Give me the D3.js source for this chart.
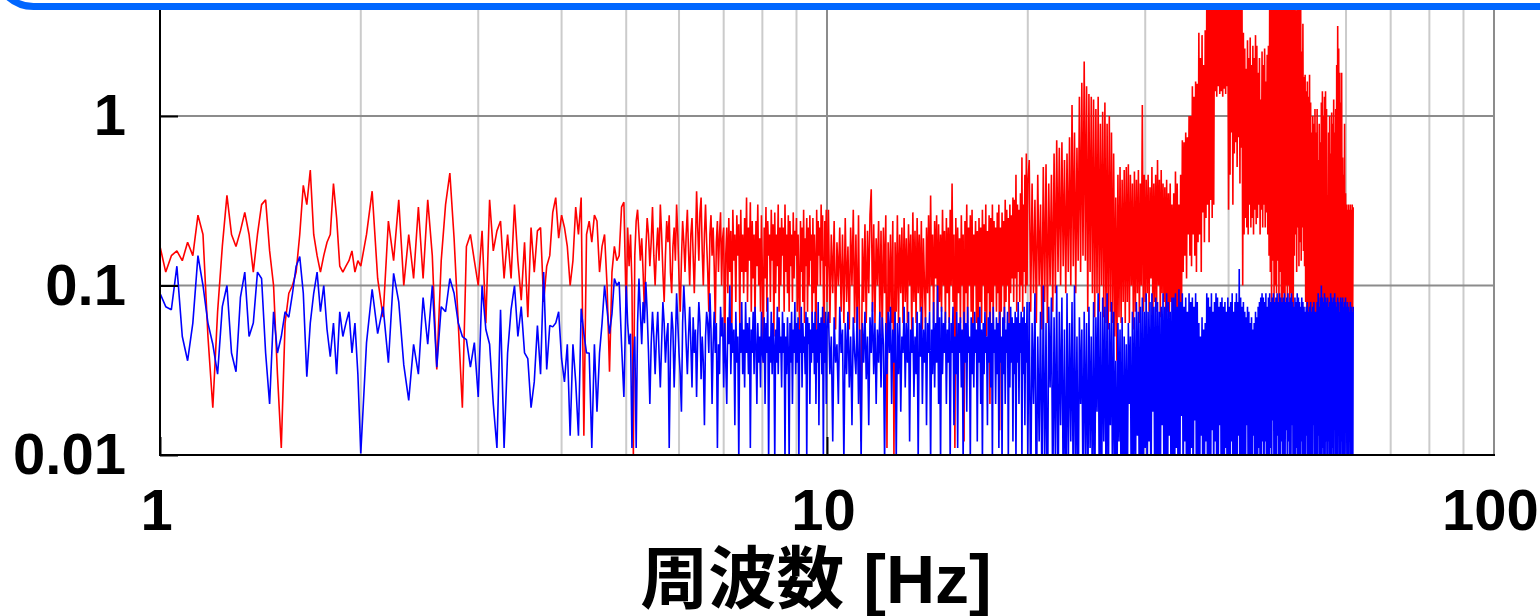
<!DOCTYPE html>
<html><head><meta charset="utf-8">
<script src="https://cdn.jsdelivr.net/npm/d3@7"></script>
<style>html,body{margin:0;padding:0;background:#fff;overflow:hidden}</style>
</head><body><svg id="c" width="1540" height="616"></svg>
<script>
// Frequency bands: start [Hz] and bin step [Hz] of each band of spectrum bins
const bandStart = [1.0, 2.04, 5.025, 10.05, 20.1];
const bandStep = [0.02, 0.04, 0.025, 0.05, 0.1];

// Red series (bands A..E)
const redA = [0.17,0.12,0.15,0.16,0.14,0.18,0.15,0.26,0.2,0.05,0.019,0.07,0.17,0.34,0.2,0.17,0.21,0.27,0.2,0.12,0.2,0.3,0.32,0.16,0.1,0.03,0.011,0.06,0.09,0.1,0.12,0.2,0.39,0.3,0.48,0.2,0.15,0.12,0.15,0.18,0.2,0.4,0.25,0.13,0.12,0.13,0.14,0.16,0.12,0.14,0.13];
const redB = [0.2,0.36,0.11,0.065,0.24,0.14,0.32,0.1,0.2,0.11,0.29,0.11,0.32,0.15,0.032,0.14,0.3,0.46,0.19,0.06,0.019,0.17,0.2,0.14,0.1,0.21,0.06,0.32,0.16,0.21,0.24,0.11,0.2,0.11,0.3,0.14,0.082,0.18,0.065,0.22,0.12,0.21,0.22,0.08,0.13,0.15,0.27,0.33,0.19,0.26,0.22,0.17,0.1,0.14,0.29,0.2,0.33,0.013,0.2,0.24,0.18,0.26,0.24,0.12,0.17,0.2,0.1,0.031,0.12,0.17,0.14,0.15,0.29,0.31,0.07];
const redC = [0.22,0.13,0.2,0.1,0.01,0.15,0.24,0.28,0.2,0.14,
0.19,0.12,0.07,0.16,0.25,0.2,0.13,0.18,0.29,0.15,
0.1,0.16,0.22,0.14,0.3,0.2,0.12,0.08,0.15,0.24,
0.18,0.26,0.12,0.09,0.17,0.22,0.14,0.3,0.2,0.11,
0.07,0.14,0.24,0.18,0.12,0.2,0.28,0.16,0.1,0.2,
0.25,0.15,0.09,0.17,0.36,0.22,0.14,0.27,0.33,0.16,
0.1,0.2,0.3,0.18,0.12,0.07,0.2,0.26,0.15,0.22,
0.13,0.06,0.18,0.24,0.12,0.2,0.27,0.1,0.19,0.22,
0.035,0.15,0.22,0.09,0.25,0.12,0.21,0.06,0.28,0.14,
0.2,0.08,0.26,0.15,0.23,0.06,0.28,0.12,0.2,0.09,
0.25,0.12,0.33,0.08,0.22,0.14,0.31,0.07,0.24,0.11,
0.2,0.06,0.24,0.13,0.3,0.1,0.19,0.07,0.26,0.12,
0.035,0.22,0.11,0.29,0.07,0.24,0.15,0.2,0.08,0.28,
0.14,0.23,0.05,0.27,0.09,0.2,0.13,0.3,0.07,0.22,
0.1,0.25,0.15,0.22,0.07,0.3,0.12,0.2,0.09,0.26,
0.07,0.24,0.13,0.2,0.08,0.27,0.11,0.21,0.15,0.25,
0.07,0.2,0.1,0.043,0.24,0.12,0.22,0.08,0.28,0.06,
0.19,0.13,0.25,0.07,0.22,0.1,0.26,0.14,0.2,0.06,
0.25,0.09,0.2,0.13,0.035,0.28,0.1,0.24,0.15,0.22,
0.1,0.3,0.14,0.26,0.09,0.035,0.24,0.13,0.28,0.08];
const redD = [0.28,0.06,0.2,0.09,0.24,0.055,0.18,0.1,0.22,0.07,
0.2,0.06,0.25,0.08,0.17,0.055,0.22,0.1,0.28,0.06,
0.2,0.05,0.26,0.036,0.012,0.19,0.08,0.23,0.06,0.21,
0.09,0.26,0.37,0.07,0.23,0.06,0.19,0.1,0.24,0.065,
0.21,0.05,0.22,0.09,0.26,0.011,0.18,0.07,0.2,0.06,
0.24,0.01,0.18,0.07,0.26,0.06,0.2,0.09,0.22,0.06,
0.25,0.08,0.19,0.06,0.23,0.1,0.2,0.05,0.27,0.08,
0.21,0.06,0.25,0.09,0.2,0.07,0.24,0.055,0.19,0.1,
0.06,0.22,0.09,0.26,0.07,0.34,0.1,0.2,0.06,0.24,
0.11,0.26,0.055,0.23,0.08,0.2,0.07,0.28,0.1,0.21,
0.06,0.25,0.09,0.22,0.06,0.28,0.1,0.4,0.08,0.2,
0.011,0.25,0.07,0.22,0.09,0.19,0.06,0.26,0.1,0.2,
0.012,0.24,0.09,0.3,0.06,0.22,0.1,0.26,0.07,0.28,
0.05,0.2,0.1,0.24,0.06,0.21,0.038,0.25,0.08,0.22,
0.06,0.28,0.1,0.23,0.07,0.3,0.05,0.21,0.09,0.26,
0.02,0.25,0.08,0.3,0.06,0.24,0.1,0.22,0.07,0.27,
0.09,0.3,0.014,0.22,0.07,0.27,0.1,0.24,0.06,0.32,
0.08,0.28,0.1,0.25,0.06,0.3,0.09,0.26,0.11,0.33,
0.08,0.32,0.11,0.45,0.07,0.3,0.12,0.28,0.08,0.35,
0.1,0.57,0.07,0.3,0.12,0.45,0.09,0.6,0.1,0.4];
const redE = [0.55,0.07,0.4,0.09,0.32,0.06,0.45,0.1,0.3,0.055,
0.5,0.08,0.52,0.06,0.4,0.1,0.45,0.07,0.6,0.09,
0.72,0.12,0.65,0.1,0.7,0.13,0.55,0.09,0.6,0.12,
0.75,0.1,1.16,0.13,0.8,0.09,0.65,0.14,1.3,0.12,
1.57,0.15,2.1,0.14,1.5,0.07,1.35,0.12,1.3,0.09,
1.25,0.065,1.1,0.09,1.3,0.07,0.9,0.1,1.06,0.065,
1.2,0.06,0.9,0.055,1.0,0.07,0.8,0.06,0.6,0.05,
0.33,0.036,0.45,0.065,0.5,0.06,0.42,0.08,0.48,0.06,
0.5,0.08,0.52,0.06,0.45,0.1,0.4,0.055,0.47,0.07,
0.42,0.09,0.48,0.06,0.4,0.1,1.16,0.07,0.45,0.08,
0.42,0.09,0.45,0.07,0.38,0.11,0.5,0.065,0.4,0.08,
0.45,0.07,0.55,0.1,0.42,0.065,0.48,0.09,0.4,0.08,
0.38,0.06,0.42,0.07,0.35,0.065,0.4,0.08,0.3,0.06,
0.35,0.07,0.47,0.048,0.4,0.06,0.3,0.07,0.45,0.06,
0.72,0.12,0.7,0.15,0.8,0.11,0.75,0.2,1.0,0.15,
1.0,0.13,1.5,0.2,1.3,0.15,1.6,0.12,1.55,0.18,
3.1,0.2,2.2,0.12,3.0,0.27,2.0,0.18,3.2,0.25,
5,0.3,6,0.18,5.5,0.32,6,0.25,7,0.3,
6,1.4,5,1.3,7,1.5,6,1.35,5,1.4,
6,1.3,7,1.45,5,1.35,6,1.5,5,0.28,
5,0.45,6,0.8,4.5,0.3,6,0.6,5,0.7,
6,0.5,5,0.75,6,0.4,5,0.65,4.5,0.1,
3.1,0.2,2.5,0.25,1.9,0.22,2.8,0.2,2.2,0.3,
2.9,0.22,2.0,0.25,2.6,0.2,2.2,0.28,3.0,0.23,
2.6,0.25,1.8,0.3,2.2,0.2,1.25,0.28,2.4,0.22,
2.0,0.3,2.5,0.22,1.6,0.27,2.3,0.2,2.6,0.15,
5,0.12,6,0.065,4.8,0.14,7,0.08,5,0.1,
6,0.09,5,0.14,6,0.07,5.5,0.12,6,0.08,
6,0.07,5,0.09,6,0.06,4.5,0.1,6,0.08,
5,0.1,6,0.07,5,0.09,6,0.08,5.5,0.07,
5,0.15,6,0.2,4.2,0.12,5,0.22,6,0.13,
4.5,0.18,6,0.14,2.4,0.22,3.5,0.16,1.7,0.13,
1.75,0.08,1.4,0.06,1.6,0.065,1.3,0.07,1.75,0.06,
1.2,0.065,0.8,0.06,1.0,0.07,0.9,0.06,1.1,0.065,
0.8,0.065,1.1,0.07,0.55,0.06,0.9,0.07,0.7,0.065,
1.2,0.07,1.4,0.065,1.0,0.07,1.3,0.06,1.4,0.065,
1.1,0.07,0.34,0.075,0.8,0.07,1.0,0.065,0.6,0.07,
1.05,0.07,0.9,0.065,1.25,0.07,0.8,0.06,1.1,0.07,
2.0,0.07,3.4,0.075,2.5,0.07,1.8,0.065,1.2,0.07,
1.8,0.075,0.57,0.07,0.45,0.065,0.9,0.07,0.35,0.07,
0.3,0.07,0.28,0.06,0.3,0.065,0.28,0.07,0.3,0.06,
0.28,0.065,0.3,0.07,0.29];

// Blue series (bands A..E)
const blueA = [0.09,0.075,0.072,0.13,0.05,0.036,0.06,0.15,0.1,0.06,0.045,0.03,0.075,0.1,0.04,0.031,0.085,0.12,0.05,0.06,0.12,0.11,0.04,0.02,0.07,0.04,0.05,0.07,0.065,0.09,0.13,0.148,0.09,0.029,0.06,0.09,0.12,0.07,0.1,0.055,0.038,0.06,0.03,0.07,0.05,0.06,0.07,0.04,0.06,0.03,0.0102];
const blueB = [0.046,0.095,0.052,0.075,0.035,0.118,0.08,0.034,0.021,0.045,0.03,0.085,0.045,0.1,0.033,0.075,0.07,0.11,0.09,0.06,0.05,0.048,0.033,0.046,0.022,0.1,0.055,0.045,0.02,0.011,0.072,0.011,0.04,0.072,0.1,0.05,0.075,0.04,0.037,0.019,0.027,0.058,0.03,0.12,0.032,0.058,0.057,0.06,0.07,0.037,0.027,0.045,0.013,0.045,0.027,0.013,0.073,0.052,0.04,0.04,0.011,0.045,0.018,0.04,0.06,0.1,0.072,0.052,0.068,0.11,0.1,0.105,0.045,0.022,0.1];
const blueC = [0.06,0.045,0.052,0.011,0.035,0.05,0.011,0.06,0.11,0.07,
0.045,0.08,0.06,0.105,0.07,0.04,0.02,0.045,0.07,0.05,
0.03,0.05,0.07,0.04,0.025,0.045,0.08,0.06,0.035,0.05,
0.06,0.011,0.04,0.07,0.055,0.025,0.045,0.09,0.06,0.04,
0.03,0.018,0.06,0.1,0.07,0.045,0.03,0.05,0.075,0.045,
0.025,0.065,0.04,0.055,0.022,0.05,0.08,0.06,0.028,0.05,
0.035,0.015,0.05,0.07,0.06,0.04,0.09,0.055,0.02,0.045,
0.07,0.04,0.06,0.011,0.045,0.03,0.075,0.05,0.065,0.025,
0.06,0.035,0.02,0.065,0.045,0.1,0.03,0.06,0.04,0.055,
0.015,0.07,0.035,0.05,0.009,0.06,0.04,0.08,0.03,0.055,
0.025,0.08,0.04,0.06,0.03,0.065,0.011,0.055,0.04,0.07,
0.03,0.075,0.045,0.02,0.06,0.035,0.05,0.025,0.07,0.04,
0.035,0.065,0.02,0.06,0.04,0.085,0.009,0.05,0.035,0.07,
0.03,0.06,0.045,0.009,0.055,0.035,0.075,0.03,0.065,0.04,
0.05,0.025,0.07,0.04,0.06,0.009,0.05,0.03,0.065,0.04,
0.009,0.06,0.035,0.07,0.02,0.055,0.04,0.08,0.03,0.06,
0.035,0.065,0.009,0.055,0.04,0.075,0.025,0.06,0.04,0.05,
0.03,0.07,0.009,0.065,0.045,0.06,0.02,0.055,0.035,0.07,
0.04,0.06,0.03,0.07,0.02,0.055,0.035,0.08,0.015,0.06,
0.04,0.065,0.03,0.075,0.009,0.06,0.035,0.07,0.02,0.055];
const blueD = [0.07,0.03,0.05,0.012,0.065,0.035,0.045,0.02,0.075,0.04,
0.055,0.009,0.06,0.03,0.07,0.025,0.05,0.015,0.065,0.04,
0.03,0.075,0.02,0.055,0.009,0.06,0.035,0.07,0.028,0.05,
0.015,0.065,0.04,0.08,0.03,0.06,0.02,0.055,0.035,0.07,
0.025,0.065,0.045,0.009,0.06,0.03,0.07,0.04,0.075,0.02,
0.055,0.035,0.07,0.009,0.06,0.03,0.065,0.018,0.05,0.04,
0.075,0.025,0.06,0.035,0.07,0.012,0.055,0.04,0.065,0.022,
0.05,0.03,0.07,0.009,0.06,0.038,0.075,0.02,0.055,0.035,
0.065,0.015,0.06,0.04,0.07,0.009,0.055,0.03,0.08,0.025,
0.06,0.035,0.1,0.02,0.065,0.009,0.075,0.03,0.06,0.04,
0.07,0.02,0.055,0.035,0.065,0.009,0.06,0.04,0.075,0.015,
0.05,0.03,0.07,0.011,0.06,0.04,0.065,0.025,0.055,0.009,
0.07,0.035,0.06,0.018,0.075,0.04,0.05,0.009,0.065,0.03,
0.06,0.025,0.07,0.04,0.055,0.012,0.065,0.035,0.075,0.02,
0.055,0.009,0.06,0.03,0.07,0.04,0.05,0.015,0.065,0.035,
0.07,0.025,0.06,0.009,0.075,0.04,0.055,0.02,0.065,0.03,
0.06,0.011,0.07,0.035,0.05,0.009,0.065,0.03,0.075,0.02,
0.055,0.04,0.07,0.009,0.06,0.025,0.075,0.035,0.065,0.012,
0.06,0.03,0.07,0.009,0.065,0.035,0.08,0.02,0.06,0.04,
0.07,0.009,0.065,0.03,0.075,0.015,0.06,0.035,0.08,0.01];
const blueE = [0.08,0.005,0.06,0.02,0.09,0.004,0.05,0.012,0.07,0.006,
0.1,0.008,0.06,0.003,0.075,0.025,0.085,0.005,0.065,0.009,
0.1,0.004,0.07,0.015,0.085,0.006,0.055,0.003,0.09,0.008,
0.06,0.012,0.08,0.005,0.1,0.007,0.05,0.004,0.065,0.02,
0.055,0.006,0.07,0.009,0.06,0.004,0.075,0.011,0.05,0.005,
0.08,0.005,0.065,0.018,0.09,0.006,0.07,0.004,0.085,0.012,
0.075,0.007,0.09,0.004,0.06,0.015,0.08,0.005,0.07,0.009,
0.036,0.004,0.06,0.012,0.055,0.006,0.065,0.003,0.05,0.008,
0.045,0.005,0.06,0.02,0.05,0.004,0.07,0.009,0.065,0.005,
0.08,0.013,0.07,0.004,0.075,0.007,0.085,0.005,0.07,0.011,
0.09,0.005,0.07,0.012,0.08,0.004,0.09,0.018,0.075,0.006,
0.085,0.005,0.08,0.009,0.07,0.004,0.075,0.015,0.09,0.006,
0.075,0.007,0.09,0.004,0.08,0.013,0.07,0.005,0.085,0.009,
0.085,0.004,0.09,0.011,0.075,0.006,0.095,0.005,0.08,0.017,
0.09,0.005,0.075,0.012,0.085,0.004,0.07,0.008,0.09,0.005,
0.08,0.011,0.085,0.004,0.075,0.016,0.09,0.005,0.08,0.009,
0.06,0.005,0.05,0.013,0.065,0.004,0.055,0.007,0.06,0.012,
0.09,0.004,0.085,0.009,0.075,0.005,0.09,0.014,0.07,0.006,
0.08,0.012,0.09,0.004,0.085,0.006,0.075,0.015,0.08,0.005,
0.085,0.009,0.075,0.004,0.08,0.011,0.07,0.005,0.085,0.008,
0.075,0.005,0.08,0.012,0.09,0.004,0.07,0.009,0.08,0.005,
0.09,0.006,0.08,0.013,0.125,0.004,0.085,0.008,0.075,0.005,
0.08,0.009,0.07,0.004,0.065,0.015,0.075,0.006,0.07,0.005,
0.06,0.007,0.065,0.004,0.055,0.013,0.06,0.005,0.07,0.009,
0.065,0.004,0.075,0.011,0.08,0.006,0.085,0.005,0.09,0.012,
0.085,0.005,0.08,0.012,0.09,0.004,0.075,0.008,0.085,0.005,
0.09,0.011,0.08,0.004,0.085,0.016,0.09,0.005,0.08,0.009,
0.085,0.005,0.09,0.013,0.08,0.004,0.09,0.007,0.085,0.012,
0.08,0.004,0.085,0.009,0.09,0.005,0.08,0.014,0.085,0.006,
0.09,0.012,0.08,0.004,0.085,0.006,0.09,0.015,0.08,0.005,
0.075,0.009,0.085,0.004,0.08,0.011,0.09,0.005,0.085,0.008,
0.08,0.005,0.075,0.012,0.085,0.004,0.08,0.009,0.075,0.005,
0.07,0.006,0.075,0.013,0.08,0.004,0.07,0.008,0.075,0.005,
0.08,0.009,0.07,0.004,0.075,0.015,0.08,0.006,0.07,0.005,
0.07,0.007,0.08,0.004,0.09,0.013,0.075,0.005,0.085,0.009,
0.1,0.004,0.085,0.011,0.08,0.006,0.09,0.005,0.085,0.012,
0.08,0.005,0.085,0.012,0.075,0.004,0.08,0.008,0.09,0.005,
0.085,0.011,0.08,0.004,0.085,0.016,0.09,0.005,0.08,0.009,
0.075,0.005,0.085,0.013,0.08,0.004,0.07,0.007,0.085,0.012,
0.08,0.004,0.085,0.009,0.075,0.005,0.08,0.014,0.085,0.006,
0.075,0.012,0.08,0.004,0.075,0.006,0.07,0.015,0.08,0.005,
0.075,0.009,0.07,0.004,0.075];

const xTicks = [1, 10, 100];
const xTickLabels = ["1", "10", "100"];
const yTicks = [0.01, 0.1, 1];
const yTickLabels = ["0.01", "0.1", "1"];
const xMinorGrid = [2,3,4,5,6,7,8,9,20,30,40,50,60,70,80,90];
const xTitle = "周波数 [Hz]";

function buildSeries(bands) {
  const out = [];
  bands.forEach((vals, b) => vals.forEach((v, i) => {
    out.push({f: +(bandStart[b] + i * bandStep[b]).toFixed(4), v});
  }));
  return out;
}
const redSeries = buildSeries([redA, redB, redC, redD, redE]);
const blueSeries = buildSeries([blueA, blueB, blueC, blueD, blueE]);

const svg = d3.select("#c");
const L = 160, R = 1494, B = 455, T = 10;
const x = d3.scaleLog().domain([1, 100]).range([L, R]);
const y = d3.scaleLog().domain([0.01, 10]).range([B, B - 3 * 169.5]);

svg.append("defs").append("clipPath").attr("id", "plotclip")
  .append("rect").attr("x", L).attr("y", T).attr("width", R - L).attr("height", B - T);

// grid
const grid = svg.append("g");
grid.selectAll("line.minor").data(xMinorGrid).join("line")
  .attr("x1", d => x(d)).attr("x2", d => x(d)).attr("y1", T).attr("y2", B)
  .attr("stroke", "#cbcbcb").attr("stroke-width", 2);
grid.selectAll("line.majx").data([10, 100]).join("line")
  .attr("x1", d => x(d)).attr("x2", d => x(d)).attr("y1", T).attr("y2", B)
  .attr("stroke", "#8c8c8c").attr("stroke-width", 2);
grid.selectAll("line.majy").data([0.1, 1]).join("line")
  .attr("x1", L).attr("x2", R).attr("y1", d => y(d)).attr("y2", d => y(d))
  .attr("stroke", "#8c8c8c").attr("stroke-width", 2);

// data
const line = d3.line().x(d => x(d.f)).y(d => y(d.v));
const plot = svg.append("g").attr("clip-path", "url(#plotclip)");
plot.append("path").datum(redSeries).attr("d", line)
  .attr("fill", "none").attr("stroke", "#ff0000").attr("stroke-width", 1.6).attr("stroke-linejoin", "bevel");
plot.append("path").datum(blueSeries).attr("d", line)
  .attr("fill", "none").attr("stroke", "#0000ff").attr("stroke-width", 1.6).attr("stroke-linejoin", "bevel");

// axes
const font = "'Liberation Sans', Arial, 'Noto Sans CJK JP', sans-serif";
const yAxis = d3.axisLeft(y).tickValues(yTicks).tickFormat((d, i) => yTickLabels[i])
  .tickSizeInner(-18).tickSizeOuter(0).tickPadding(34);
const gy = svg.append("g").attr("transform", `translate(${L},0)`).call(yAxis);
const xAxis = d3.axisBottom(x).tickValues(xTicks).tickFormat((d, i) => xTickLabels[i])
  .tickSizeInner(-18).tickSizeOuter(0).tickPadding(34);
const gx = svg.append("g").attr("transform", `translate(0,${B})`).call(xAxis);
[gx, gy].forEach(g => {
  g.select(".domain").remove();
  g.selectAll(".tick line").attr("stroke", "#000").attr("stroke-width", 2);
  g.selectAll(".tick text").attr("fill", "#000").style("font-family", font)
    .style("font-size", "58px").style("font-weight", "bold");
});
gx.selectAll(".tick text").attr("dx", -4);
gx.selectAll(".tick line").filter(d => d === 100).remove();

// frame
svg.append("line").attr("x1", L).attr("x2", L).attr("y1", 0).attr("y2", B + 1)
  .attr("stroke", "#000").attr("stroke-width", 2);
svg.append("line").attr("x1", L - 1).attr("x2", R + 1).attr("y1", B).attr("y2", B)
  .attr("stroke", "#000").attr("stroke-width", 2);

// title
svg.append("text").attr("x", 816).attr("y", 603).attr("text-anchor", "middle")
  .style("font-family", font).style("font-size", "68px").style("font-weight", "bold")
  .attr("fill", "#000").text(xTitle);

// blue rounded frame edge at top
svg.append("rect").attr("x", -4.5).attr("y", -300).attr("width", 1600).attr("height", 306.5)
  .attr("rx", 38).attr("ry", 38).attr("fill", "#fff").attr("stroke", "#0066ff").attr("stroke-width", 7);
</script></body></html>
